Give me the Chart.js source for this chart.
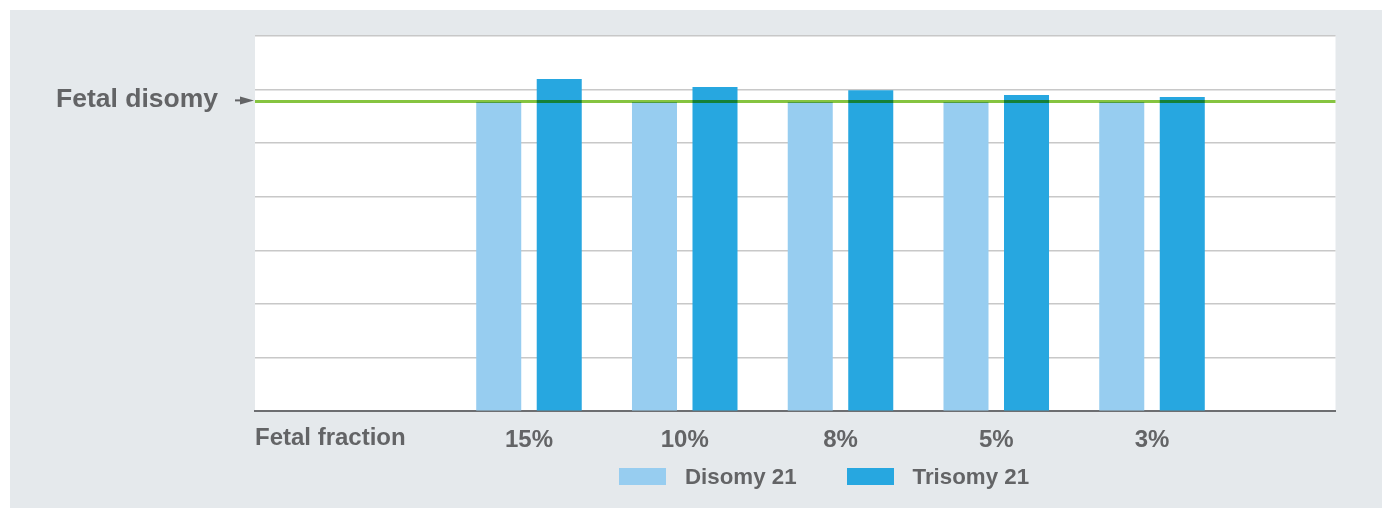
<!DOCTYPE html>
<html>
<head>
<meta charset="utf-8">
<script src="https://cdn.jsdelivr.net/npm/chart.js@4"></script>
<style>
  body { margin: 0; background: #fff; }
  #wrap {
    position: absolute; left: 10px; top: 10px;
    width: 1372px; height: 498px;
    background: #e5e9ec;
  }
  #legend {
    position: absolute; left: 609px; top: 458px;
    display: flex; align-items: center; height: 17px;
    font-family: "Liberation Sans", Arial, sans-serif;
    font-weight: bold; font-size: 22.3px; color: #636466;
  }
  #legend .item { display: flex; align-items: center; margin-right: 50px; }
  #legend .box { width: 47px; height: 17px; margin-right: 19px; }
</style>
</head>
<body>
<div id="wrap">
  <canvas id="chart"></canvas>
  <div id="legend"></div>
</div>
<script>
const categories = ['15%', '10%', '8%', '5%', '3%'];
const disomy21 = [5.77, 5.77, 5.77, 5.77, 5.77];
const trisomy21 = [6.20, 6.05, 5.99, 5.90, 5.86];
const fetalDisomyLevel = 5.78;
const xLabel = 'Fetal fraction';
const lineLabel = 'Fetal disomy';

const textColor = '#636466';
const fontFamily = '"Liberation Sans", Arial, sans-serif';

// white plot background
const plotBackground = {
  id: 'plotBackground',
  beforeDraw(chart) {
    const { ctx, chartArea: { left, top, width, height } } = chart;
    ctx.save();
    ctx.fillStyle = '#ffffff';
    ctx.fillRect(left, top, width, height);
    ctx.restore();
  }
};

// green reference line + side labels
const annotations = {
  id: 'annotations',
  afterDatasetsDraw(chart) {
    const { ctx, chartArea: { left, right, bottom }, scales: { y } } = chart;
    const lineY = y.getPixelForValue(fetalDisomyLevel);

    ctx.save();
    ctx.globalCompositeOperation = 'multiply';
    ctx.strokeStyle = '#86c440';
    ctx.lineWidth = 3;
    ctx.beginPath();
    ctx.moveTo(left, lineY);
    ctx.lineTo(right, lineY);
    ctx.stroke();
    ctx.restore();

    ctx.save();
    ctx.fillStyle = textColor;
    ctx.strokeStyle = textColor;
    // arrow
    ctx.lineWidth = 2;
    ctx.beginPath();
    ctx.moveTo(left - 20, lineY - 1);
    ctx.lineTo(left - 10, lineY - 1);
    ctx.stroke();
    ctx.beginPath();
    ctx.moveTo(left - 15, lineY - 5);
    ctx.lineTo(left - 1, lineY - 1);
    ctx.lineTo(left - 15, lineY + 3);
    ctx.closePath();
    ctx.fill();

    ctx.font = 'bold 26.5px ' + fontFamily;
    ctx.textAlign = 'right';
    ctx.textBaseline = 'alphabetic';
    ctx.fillText(lineLabel, left - 37, lineY + 6);

    ctx.font = 'bold 24px ' + fontFamily;
    ctx.textAlign = 'left';
    ctx.fillText(xLabel, left, bottom + 34);
    ctx.restore();
  }
};

const chart = new Chart(document.getElementById('chart'), {
  type: 'bar',
  data: {
    datasets: [
      {
        label: 'Disomy 21',
        data: disomy21.map((v, i) => ({ x: i, y: v })),
        backgroundColor: '#97cdf0'
      },
      {
        label: 'Trisomy 21',
        data: trisomy21.map((v, i) => ({ x: i, y: v })),
        backgroundColor: '#27a7e0'
      }
    ]
  },
  options: {
    responsive: true,
    maintainAspectRatio: false,
    animation: false,
    categoryPercentage: 0.777,
    barPercentage: 0.744,
    layout: {
      padding: { left: 245, right: 46.5, top: 26, bottom: 39 }
    },
    scales: {
      x: {
        type: 'linear',
        offset: false,
        min: -1.759,
        max: 5.178,
        afterBuildTicks: (axis) => {
          axis.ticks = categories.map((_, i) => ({ value: i }));
        },
        grid: { display: false, drawTicks: false, offset: false },
        border: { display: true, color: '#6d6e71', width: 2 },
        ticks: {
          padding: 14.5,
          maxRotation: 0,
          autoSkip: false,
          color: textColor,
          font: { family: fontFamily, weight: 'bold', size: 24 },
          callback: (value) => categories[value]
        }
      },
      y: {
        min: 0,
        max: 7,
        ticks: { display: false, stepSize: 1 },
        grid: { color: '#c8c8c8', lineWidth: 1.5, drawTicks: false },
        border: { display: false }
      }
    },
    plugins: {
      legend: { display: false },
      tooltip: { enabled: true }
    }
  },
  plugins: [plotBackground, annotations]
});

// html legend from the datasets
const legendEl = document.getElementById('legend');
chart.data.datasets.forEach((ds) => {
  const item = document.createElement('div');
  item.className = 'item';
  const box = document.createElement('span');
  box.className = 'box';
  box.style.background = ds.backgroundColor;
  const label = document.createElement('span');
  label.textContent = ds.label;
  item.appendChild(box);
  item.appendChild(label);
  legendEl.appendChild(item);
});
</script>
</body>
</html>
